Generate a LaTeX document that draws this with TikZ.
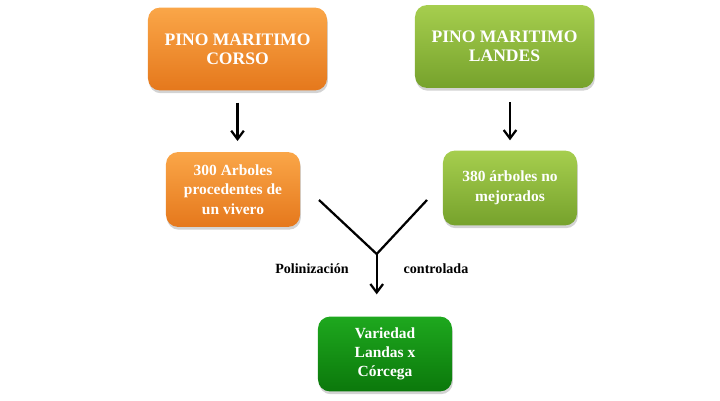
\documentclass[tikz,border=0pt]{standalone}
\usepackage{fontspec}
\setmainfont{Liberation Serif}
\usetikzlibrary{
    positioning,           % Relative positioning
    arrows.meta,           % Modern arrow tips
    shadows                % Drop shadows
}

\definecolor{naranjaclaro}{HTML}{FAA648}
\definecolor{naranjaoscuro}{HTML}{E5781C}
\definecolor{verdeclaro}{HTML}{A6CE4E}
\definecolor{verdeoscuro}{HTML}{76A22C}
\definecolor{verdefuerteclaro}{HTML}{1EA81E}
\definecolor{verdefuerteoscuro}{HTML}{0B780B}

\tikzset{
    caja/.style={rounded corners=0.3cm, align=center, text=white,
        font=\bfseries, inner sep=2pt,
        drop shadow={shadow xshift=0.6pt, shadow yshift=-2pt, opacity=0.35}},
    cajanaranja/.style={caja, top color=naranjaclaro, bottom color=naranjaoscuro},
    cajaverde/.style={caja, top color=verdeclaro, bottom color=verdeoscuro},
    cajafinal/.style={caja, top color=verdefuerteclaro, bottom color=verdefuerteoscuro},
    grande/.style={minimum width=4.475cm, minimum height=2.07cm,
        font=\fontsize{12.5}{13.5}\selectfont\bfseries},
    chica/.style={minimum width=3.35cm, minimum height=1.87cm,
        font=\fontsize{11}{14}\selectfont\bfseries},
    flecha/.style={line width=1.6pt, -{Straight Barb[length=6pt,width=9pt]}},
    linea/.style={line width=1.6pt},
    etiqueta/.style={font=\fontsize{10}{12}\selectfont\bfseries, text=black}
}

\begin{document}
\begin{tikzpicture}[x=0.025cm, y=-0.025cm]
    \useasboundingbox (0,0) rectangle (720,400);

    % parentales
    \node[cajanaranja, grande] (corso) at (237.5,49) {PINO MARITIMO\\CORSO};
    \node[cajaverde, grande] (landes) at (504.5,46.5) {PINO MARITIMO\\LANDES};

    % arboles seleccionados
    \node[cajanaranja, chica] (arboles) at (233,189.5) {300 Arboles\\procedentes de\\un vivero};
    \node[cajaverde, chica] (mejorados) at (510,188) {380 árboles no\\mejorados};

    % resultado
    \node[cajafinal, chica, font=\fontsize{11}{13.5}\selectfont\bfseries] (variedad) at (385,354) {Variedad\\Landas x\\Córcega};

    \draw[flecha, shorten <=0.3cm, shorten >=0.27cm] (corso.south) -- (corso.south |- arboles.north);
    \draw[flecha, shorten <=0.35cm, shorten >=0.25cm] (landes.south -| mejorados.north) -- (mejorados.north);

    % cruce
    \coordinate (ramaizq) at (319,200);
    \coordinate (ramader) at (427,200);
    \coordinate (cruce) at (376.7,254);
    \draw[linea] (ramaizq) -- (cruce) -- (ramader);
    \draw[flecha, shorten >=0.55cm] (cruce) -- (cruce |- variedad.north);

    \node[etiqueta] (poli) at (312,269) {Polinización};
    \node[etiqueta] (contr) at (436,269) {controlada};
\end{tikzpicture}
\end{document}
